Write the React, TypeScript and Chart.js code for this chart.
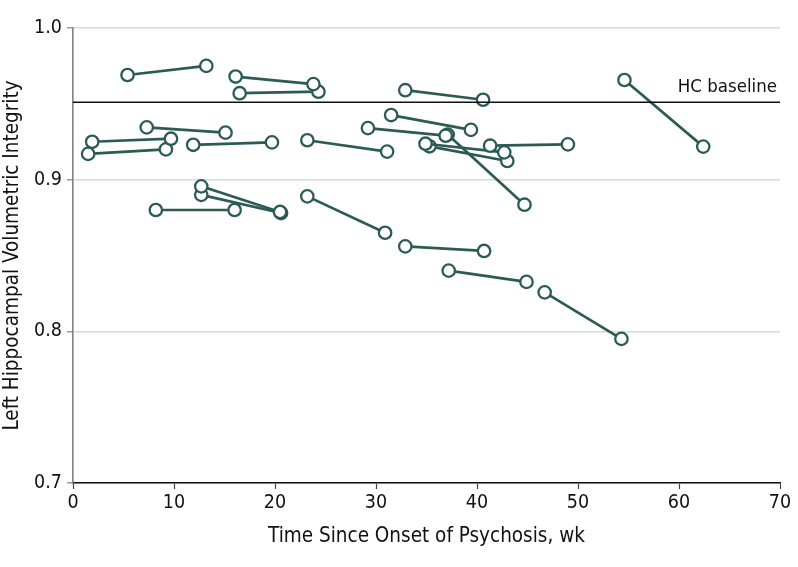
import React, { useEffect, useRef } from "react";
import { Chart, registerables } from "chart.js";

Chart.register(...registerables);

const startWeeks = [5.4, 16.1, 16.5, 7.3, 1.9, 1.5, 11.9, 23.2, 32.9, 31.5, 29.2, 37.1, 41.3, 34.9, 35.3, 54.6, 12.7, 12.7, 8.2, 23.2, 32.9, 37.2, 46.7];
const endWeeks = [13.2, 23.8, 24.3, 15.1, 9.7, 9.2, 19.7, 31.1, 40.6, 39.4, 36.9, 44.7, 49.0, 42.7, 43.0, 62.4, 20.5, 20.6, 16.0, 30.9, 40.7, 44.9, 54.3];
const startValues = [0.969, 0.968, 0.957, 0.9345, 0.925, 0.917, 0.923, 0.926, 0.959, 0.9426, 0.934, 0.9297, 0.9224, 0.9237, 0.922, 0.9657, 0.8956, 0.89, 0.88, 0.889, 0.856, 0.84, 0.8257];
const endValues = [0.975, 0.963, 0.958, 0.931, 0.927, 0.92, 0.9246, 0.9185, 0.9527, 0.9328, 0.929, 0.8835, 0.9233, 0.918, 0.9123, 0.9218, 0.8787, 0.878, 0.88, 0.865, 0.853, 0.8326, 0.795];

const hcBaseline = 0.951;
const hcLabel = "HC baseline";
const xTitle = "Time Since Onset of Psychosis, wk";
const yTitle = "Left Hippocampal Volumetric Integrity";
const xRange = [0, 70];
const yRange = [0.7, 1.0];

const FONT = "'Liberation Sans Narrow', 'DejaVu Sans Condensed', sans-serif";
const TEAL = "#2c5b56";

export default function App() {
  const ref = useRef<HTMLCanvasElement | null>(null);

  useEffect(() => {
    document.body.style.margin = "0";
    const canvas = ref.current;
    if (!canvas) return;

    const datasets: any[] = startWeeks.map((sw, i) => ({
      data: [
        { x: sw, y: startValues[i] },
        { x: endWeeks[i], y: endValues[i] },
      ],
      borderColor: TEAL,
      borderWidth: 2.7,
      pointRadius: 6.2,
      pointBorderWidth: 2.3,
      pointBackgroundColor: "#ffffff",
      pointBorderColor: TEAL,
      showLine: true,
      fill: false,
      tension: 0,
    }));

    datasets.unshift({
      data: [
        { x: xRange[0], y: hcBaseline },
        { x: xRange[1], y: hcBaseline },
      ],
      borderColor: "#111111",
      borderWidth: 1.6,
      pointRadius: 0,
      showLine: true,
      fill: false,
    });

    const labelPlugin = {
      id: "hcLabel",
      afterDatasetsDraw(chart: any) {
        const { ctx, chartArea, scales } = chart;
        const y = scales.y.getPixelForValue(hcBaseline);
        ctx.save();
        ctx.font = `18.5px ${FONT}`;
        ctx.fillStyle = "#111111";
        ctx.textAlign = "right";
        ctx.textBaseline = "bottom";
        ctx.fillText(hcLabel, chartArea.right - 3, y - 6);
        ctx.restore();
      },
    };

    const chart = new Chart(canvas, {
      type: "scatter",
      data: { datasets },
      plugins: [labelPlugin],
      options: {
        animation: false,
        responsive: false,
        events: [],
        layout: { padding: { top: 28, right: 18, left: 0, bottom: 0 } },
        plugins: { legend: { display: false }, tooltip: { enabled: false } },
        scales: {
          x: {
            type: "linear",
            min: xRange[0],
            max: xRange[1],
            afterFit: (s: any) => {
              s.height = 84;
            },
            border: { color: "#111111", width: 1.6 },
            grid: {
              drawOnChartArea: false,
              drawTicks: true,
              tickLength: 6,
              tickColor: "#444444",
              tickWidth: 1.2,
            },
            ticks: {
              stepSize: 10,
              color: "#111111",
              padding: 2,
              font: { family: FONT, size: 19.5 },
            },
            title: {
              display: true,
              text: xTitle,
              color: "#111111",
              font: { family: FONT, size: 20.5 },
              padding: { top: 0, bottom: 18 },
            },
          },
          y: {
            type: "linear",
            min: yRange[0],
            max: yRange[1],
            afterFit: (s: any) => {
              s.width = 73;
            },
            border: { color: "#808080", width: 1.6 },
            grid: {
              color: "#d8d8d8",
              lineWidth: 1.6,
              drawTicks: true,
              tickLength: 6,
              tickColor: "#808080",
              tickWidth: 1.2,
            },
            ticks: {
              stepSize: 0.1,
              color: "#111111",
              padding: 5,
              font: { family: FONT, size: 19.5 },
              callback: (v: any) => Number(v).toFixed(1),
            },
            title: {
              display: true,
              text: yTitle,
              color: "#111111",
              font: { family: FONT, size: 20.5 },
              padding: { top: 0, bottom: 0 },
            },
          },
        },
      },
    });

    return () => chart.destroy();
  }, []);

  return (
    <div style={{ width: 798, height: 567 }}>
      <canvas ref={ref} width={798} height={567} style={{ display: "block" }} />
    </div>
  );
}
